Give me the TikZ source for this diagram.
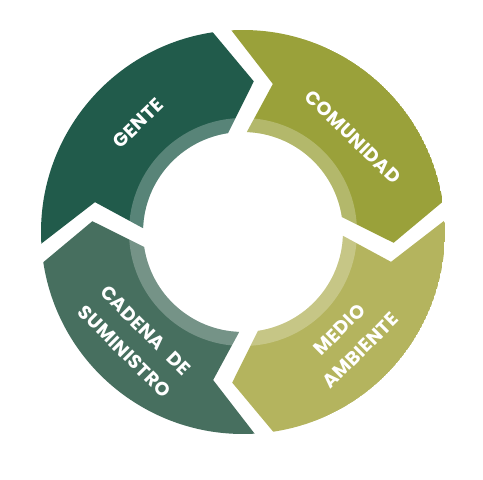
\documentclass[tikz,border=0pt]{standalone}
\usepackage{fontspec}
\setmainfont{Poppins}
\newfontfamily\segfont[LetterSpace=2]{Poppins}

\definecolor{genteGreen}{HTML}{215B4B}
\definecolor{comunidadOlive}{HTML}{9AA13A}
\definecolor{medioOlive}{HTML}{B4B45E}
\definecolor{cadenaGreen}{HTML}{476F5F}

\begin{document}
\begin{tikzpicture}[x=1bp,y=1bp]
	\tikzstyle{ring}=[fill=white, fill opacity=.25]
	\tikzstyle{segtext}=[text=white, font=\segfont\bfseries\fontsize{19}{30}\selectfont, align=center, inner sep=0pt]

	\useasboundingbox (-243,-248) rectangle (240,232);

	% gente
	\begin{scope}
		\clip (183.3:202) arc[start angle=183.3, end angle=98.6, radius=202] -- (85.9:151) -- (98.6:100) arc[start angle=98.6, end angle=177.8, radius=100] -- (168.6:151) -- cycle;
		\fill[genteGreen] (0,0) circle[radius=202];
		\fill[ring] (0,0) circle[radius=114];
	\end{scope}

	% comunidad
	\begin{scope}
		\clip (93.3:202) arc[start angle=93.3, end angle=8.6, radius=202] -- (-4.1:151) -- (8.6:100) arc[start angle=8.6, end angle=87.8, radius=100] -- (78.6:151) -- cycle;
		\fill[comunidadOlive] (0,0) circle[radius=202];
		\fill[ring] (0,0) circle[radius=114];
	\end{scope}

	% medio ambiente
	\begin{scope}
		\clip (3.3:202) arc[start angle=3.3, end angle=-81.4, radius=202] -- (-94.1:151) -- (-81.4:100) arc[start angle=-81.4, end angle=-2.2, radius=100] -- (-11.4:151) -- cycle;
		\fill[medioOlive] (0,0) circle[radius=202];
		\fill[ring] (0,0) circle[radius=114];
	\end{scope}

	% cadena de suministro
	\begin{scope}
		\clip (-86.7:202) arc[start angle=-86.7, end angle=-171.4, radius=202] -- (-184.1:151) -- (-171.4:100) arc[start angle=-171.4, end angle=-92.2, radius=100] -- (-101.4:151) -- cycle;
		\fill[cadenaGreen] (0,0) circle[radius=202];
		\fill[ring] (0,0) circle[radius=114];
	\end{scope}

	\node (gente) [segtext, rotate=44] at (134:151) {GENTE};
	\node (comunidad) [segtext, rotate=-44] at (110,95) {COMUNIDAD};
	\node (medio) [segtext, rotate=45] at (107,-108) {MEDIO\\AMBIENTE};
	\node (cadena) [segtext, rotate=-45] at (-108,-109) {CADENA\hspace{.35em} DE\\SUMINISTRO};
\end{tikzpicture}
\end{document}
